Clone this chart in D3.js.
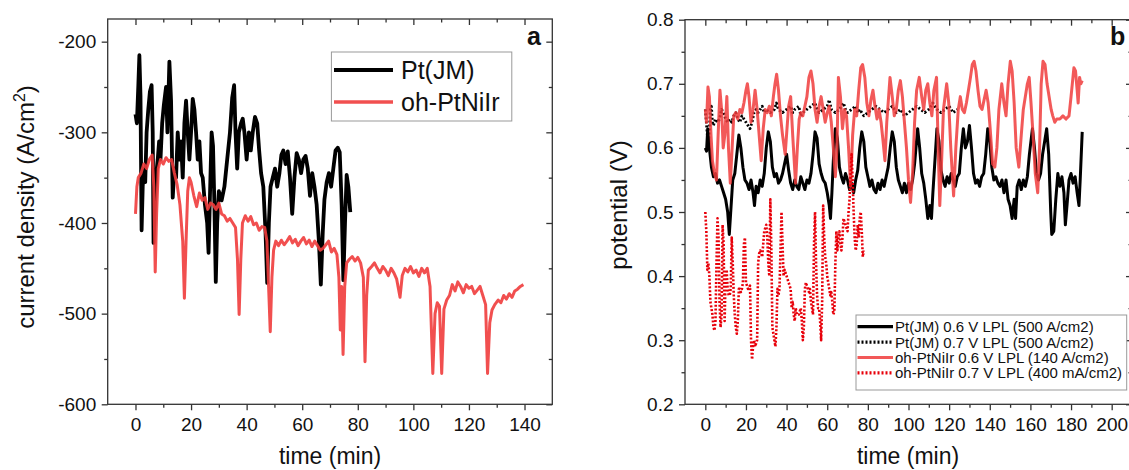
<!DOCTYPE html>
<html>
<head>
<meta charset="utf-8">
<script src="https://cdn.jsdelivr.net/npm/d3@7"></script>
<style>
  body { margin: 0; background: #fff; }
  svg { display: block; }
  text { font-family: "Liberation Sans", Arial, sans-serif; fill: #111; }
</style>
</head>
<body>
<script>
// ---- data: [time (min), value] ----
// panel a: current density (A/cm2)
var ptJM_a = [[0,-280],[0.5,-290],[1,-250],[1.4,-215],[1.8,-260],[2.2,-408],[2.6,-360],[3,-340],[3.5,-355],[4,-300],[4.6,-275],[5.2,-255],[5.8,-248],[6.2,-300],[6.5,-422],[7,-380],[7.5,-345],[8,-330],[8.5,-310],[9,-330],[9.6,-290],[10.2,-270],[11,-250],[11.5,-300],[12.2,-222],[12.8,-265],[13.4,-372],[14,-340],[14.6,-350],[15.2,-300],[15.8,-330],[16.4,-310],[17,-350],[17.6,-290],[18.2,-265],[18.8,-300],[19.4,-330],[20,-300],[20.6,-263],[21.2,-275],[21.8,-300],[22.4,-330],[23,-310],[23.6,-345],[24.2,-350],[25,-380],[25.8,-400],[26.3,-433],[26.8,-370],[27.4,-300],[27.9,-315],[28.4,-380],[28.9,-465],[29.4,-400],[30,-365],[31,-375],[32,-360],[33,-330],[34,-300],[34.8,-262],[35.5,-248],[36,-300],[36.6,-340],[37.2,-300],[38,-290],[38.6,-285],[39.2,-300],[40,-330],[40.8,-300],[41.5,-320],[42.2,-300],[43,-283],[43.8,-290],[44.5,-320],[45.2,-345],[46,-360],[46.8,-410],[47.4,-466],[48,-400],[48.6,-360],[49.4,-350],[50.2,-340],[51,-360],[51.8,-345],[52.5,-325],[53.2,-320],[54,-335],[54.8,-321],[55.6,-350],[56.4,-390],[57.2,-350],[58,-323],[58.8,-330],[59.6,-345],[60.4,-330],[61.2,-326],[62,-340],[62.8,-370],[63.6,-345],[64.4,-360],[65.2,-380],[66,-420],[66.7,-468],[67.4,-410],[68,-374],[68.8,-355],[69.6,-345],[70.4,-360],[71.2,-340],[72,-320],[72.8,-317],[73.5,-322],[74.2,-380],[74.8,-463],[75.4,-400],[76,-347],[76.6,-360],[77.3,-388]];

var ohPtNiIr_a = [[0,-390],[0.5,-360],[1,-350],[2,-345],[3,-335],[4,-340],[5,-330],[6,-325],[6.6,-360],[7.1,-454],[7.6,-390],[8.2,-340],[9,-330],[10,-335],[11,-328],[12,-332],[13,-330],[14,-345],[15,-358],[16,-380],[17,-420],[17.6,-483],[18.2,-420],[18.8,-365],[19.4,-350],[20,-355],[21,-370],[22,-382],[23,-367],[24,-375],[25,-372],[26,-385],[27,-378],[28,-380],[29,-385],[30,-378],[31,-390],[32,-392],[33,-398],[34,-395],[35,-400],[36,-405],[36.7,-440],[37.3,-501],[37.9,-440],[38.5,-400],[39.5,-392],[40.5,-398],[41.5,-393],[42.5,-402],[43.5,-400],[44.5,-408],[45.5,-404],[46.5,-405],[47.3,-420],[47.9,-470],[48.5,-520],[49.1,-460],[49.7,-430],[50.5,-420],[51.5,-425],[52.5,-419],[53.5,-424],[54.5,-420],[55.5,-415],[56.5,-422],[57.5,-418],[58.5,-425],[59.5,-420],[60.5,-416],[61.5,-423],[62.5,-419],[63.5,-426],[64.5,-420],[65.5,-425],[66.5,-430],[67.5,-428],[68.5,-424],[69.5,-420],[70.5,-432],[71.5,-428],[72.5,-435],[73.2,-460],[73.7,-518],[74.2,-470],[74.7,-545],[75.3,-470],[76,-444],[77,-440],[78,-437],[79,-442],[80,-438],[81,-444],[82,-460],[82.6,-553],[83.2,-480],[83.8,-452],[85,-448],[86,-444],[87,-450],[88,-455],[89,-448],[90,-452],[91,-458],[92,-450],[93,-455],[94,-462],[95.2,-482],[96,-458],[97,-450],[98,-454],[99,-448],[100,-455],[101,-452],[102,-459],[103,-450],[104,-455],[105,-450],[106,-470],[107,-566],[107.8,-500],[108.6,-488],[109.4,-492],[110.2,-566],[111,-495],[112,-485],[113,-480],[114,-468],[115,-475],[116,-465],[117,-470],[118,-477],[119,-468],[120,-472],[121,-470],[122,-478],[123,-474],[124,-470],[125,-480],[126,-490],[126.7,-566],[127.5,-510],[128.3,-496],[129.3,-490],[130.5,-485],[131.5,-488],[132.5,-480],[133.5,-484],[134.5,-478],[135.5,-482],[136.5,-475],[137.5,-473],[138.5,-470],[139.6,-468]];

// panel b: potential (V)
var ptJM06 = [[0,0.60],[0.6,0.595],[1.2,0.63],[2,0.60],[3,0.57],[4,0.555],[5,0.56],[6,0.545],[7,0.55],[8,0.54],[9,0.53],[10,0.52],[11,0.50],[11.8,0.465],[12.5,0.50],[13.5,0.55],[14.5,0.56],[15.5,0.59],[16.5,0.62],[17.5,0.60],[18.5,0.57],[19.5,0.55],[20.5,0.545],[21.5,0.535],[22.5,0.55],[23.5,0.53],[24.2,0.51],[25,0.54],[26,0.53],[27,0.55],[28,0.54],[29,0.56],[30,0.60],[31,0.625],[32,0.61],[33,0.57],[34,0.555],[35,0.56],[36,0.545],[37,0.55],[38,0.56],[39,0.575],[40,0.59],[41,0.565],[42,0.545],[43,0.535],[44,0.55],[45,0.54],[46,0.535],[47,0.555],[48,0.545],[49,0.535],[50,0.55],[51,0.545],[52,0.56],[53,0.59],[54,0.625],[55,0.615],[56,0.575],[57,0.56],[58,0.55],[59,0.545],[60,0.53],[61,0.51],[61.6,0.49],[62.3,0.53],[63,0.58],[64,0.63],[65,0.615],[66,0.57],[67,0.555],[68,0.545],[69,0.56],[70,0.55],[71,0.535],[72,0.545],[73,0.53],[74,0.55],[75,0.565],[76,0.60],[77,0.625],[78,0.61],[79,0.57],[80,0.555],[81,0.54],[82,0.55],[83,0.535],[84,0.53],[85,0.545],[86,0.535],[87,0.55],[88,0.54],[89,0.555],[90,0.57],[91,0.60],[92,0.625],[93,0.61],[94,0.57],[95,0.55],[96,0.54],[97,0.53],[98,0.545],[99,0.53],[100,0.545],[101,0.535],[102,0.55],[103,0.575],[104.5,0.63],[105.5,0.60],[106.5,0.56],[107.5,0.545],[108.5,0.52],[109.5,0.49],[110.5,0.51],[111.3,0.49],[112,0.53],[113,0.58],[114,0.63],[115,0.61],[116,0.565],[117,0.55],[118,0.54],[119,0.555],[120,0.545],[121,0.56],[122,0.55],[123,0.54],[124,0.555],[125,0.56],[126,0.60],[127,0.63],[128,0.60],[129,0.61],[130,0.635],[131,0.60],[132,0.56],[133,0.545],[134,0.55],[135,0.54],[136,0.555],[137,0.56],[138,0.59],[139,0.63],[140,0.61],[141,0.57],[142,0.55],[143,0.555],[144,0.545],[145,0.54],[146,0.55],[147,0.53],[148,0.55],[149,0.52],[150,0.51],[151,0.49],[152,0.52],[152.7,0.49],[153.5,0.54],[154.5,0.55],[155.5,0.535],[156.5,0.55],[157.5,0.54],[158.5,0.555],[159.5,0.59],[161,0.63],[162,0.60],[163,0.56],[164,0.55],[165,0.56],[166,0.59],[168,0.63],[169,0.59],[170,0.50],[170.5,0.465],[171.5,0.47],[172.5,0.52],[173.5,0.56],[174.5,0.54],[175.5,0.555],[176.5,0.53],[177.2,0.48],[178,0.51],[179,0.55],[180,0.56],[181,0.545],[182,0.555],[183,0.53],[183.9,0.51],[184.5,0.55],[185.5,0.625]];

var ptJM07 = [[0,0.66],[0.5,0.64],[1,0.62],[1.5,0.60],[2,0.63],[2.5,0.66],[3,0.665],[3.5,0.64],[4,0.635],[5,0.645],[6,0.64],[7,0.645],[8,0.66],[9,0.655],[10,0.645],[11,0.64],[12,0.645],[13,0.64],[14,0.65],[15,0.655],[16,0.645],[17,0.64],[18,0.65],[19,0.645],[20,0.64],[21,0.635],[22,0.63],[23,0.64],[24,0.655],[25,0.66],[26,0.655],[27,0.66],[28,0.665],[29,0.655],[30,0.66],[32,0.655],[34,0.66],[35,0.67],[36,0.66],[38,0.655],[40,0.66],[42,0.665],[43,0.655],[44,0.66],[46,0.665],[47,0.65],[48,0.655],[50,0.66],[52,0.665],[54,0.67],[55,0.66],[56,0.655],[58,0.66],[60,0.665],[61,0.675],[62,0.66],[64,0.655],[66,0.66],[68,0.67],[69,0.66],[70,0.655],[72,0.66],[74,0.665],[75,0.655],[76,0.66],[78,0.65],[80,0.655],[82,0.66],[84,0.665],[86,0.66],[88,0.655],[90,0.66],[92,0.665],[94,0.655],[96,0.66],[98,0.65],[100,0.655],[102,0.66],[104,0.665],[106,0.66],[108,0.655],[110,0.66],[112,0.67],[114,0.66],[116,0.655],[118,0.66],[120,0.665],[122,0.655],[124,0.66]];

var ohPtNiIr06 = [[0,0.66],[0.6,0.64],[1.3,0.695],[2,0.68],[2.8,0.62],[3.5,0.58],[4.5,0.56],[5.5,0.55],[6.3,0.62],[7.2,0.69],[8,0.66],[8.8,0.60],[9.6,0.62],[10.6,0.68],[11.4,0.60],[12.3,0.545],[13.2,0.60],[14,0.65],[15,0.655],[16,0.645],[17,0.66],[18,0.655],[19,0.67],[20,0.69],[20.7,0.70],[21.5,0.68],[22.5,0.64],[23.5,0.66],[24.5,0.69],[25.5,0.66],[26.5,0.62],[27.5,0.58],[28.5,0.63],[29.5,0.66],[30.5,0.655],[31.5,0.665],[32.5,0.65],[33.5,0.68],[34.3,0.70],[35.1,0.715],[36,0.69],[37,0.65],[38,0.62],[39.3,0.59],[40.2,0.63],[41,0.665],[42,0.68],[43,0.62],[44.4,0.545],[45.3,0.60],[46.2,0.645],[47,0.655],[48,0.65],[49,0.665],[50,0.68],[51,0.71],[52,0.72],[53,0.70],[54,0.66],[55,0.64],[56,0.665],[57,0.68],[58,0.66],[59,0.64],[60,0.655],[61,0.665],[62,0.64],[63,0.60],[64,0.555],[64.8,0.60],[65.5,0.71],[66.5,0.68],[67.5,0.63],[68.5,0.66],[69.5,0.65],[70.5,0.60],[71.5,0.54],[72.5,0.62],[73.5,0.66],[74.5,0.65],[75.5,0.69],[76.5,0.725],[77.4,0.73],[78.5,0.71],[79.5,0.67],[80.5,0.65],[81.5,0.675],[82.5,0.69],[83.5,0.665],[84.5,0.645],[85.5,0.66],[86.5,0.64],[87.5,0.61],[88.4,0.58],[89.3,0.64],[90.9,0.71],[92,0.68],[93,0.65],[94,0.66],[95,0.69],[96,0.705],[97,0.68],[98,0.64],[99,0.60],[100,0.55],[101,0.515],[102,0.56],[103,0.64],[104,0.69],[105.3,0.71],[106.5,0.68],[107.5,0.66],[108.5,0.69],[109.5,0.70],[110.5,0.67],[111.5,0.65],[112.5,0.69],[113.8,0.71],[114.6,0.60],[115.4,0.51],[116.3,0.58],[117.2,0.66],[118.8,0.70],[119.8,0.67],[120.8,0.60],[122.2,0.525],[123.3,0.60],[124.5,0.66],[125.5,0.68],[126.5,0.66],[127.5,0.655],[128.5,0.67],[129.5,0.69],[130.5,0.71],[131.4,0.73],[132.3,0.735],[133.2,0.72],[134.2,0.69],[135.2,0.665],[136.2,0.66],[137.2,0.675],[138.2,0.69],[139.2,0.67],[140.2,0.63],[141.4,0.575],[142.5,0.57],[143.5,0.60],[144.5,0.66],[145.9,0.70],[147,0.67],[148,0.65],[149,0.70],[150.1,0.735],[151,0.72],[152,0.67],[153,0.60],[154.3,0.57],[155.5,0.62],[156.5,0.66],[157.5,0.68],[158.5,0.70],[159.4,0.71],[160.3,0.67],[161.3,0.62],[162.4,0.56],[163.6,0.53],[164.5,0.60],[165.3,0.70],[166.2,0.735],[167.2,0.73],[168.2,0.70],[169.2,0.68],[170.2,0.66],[171,0.65],[172,0.64],[173,0.645],[174.5,0.645],[176,0.65],[177.5,0.645],[179,0.65],[180,0.68],[181.4,0.725],[182.2,0.72],[183,0.69],[183.5,0.67],[184.2,0.71],[184.8,0.70],[185.5,0.705]];

var ohPtNiIr07 = [[0,0.50],[0.5,0.47],[1,0.41],[1.5,0.42],[2,0.40],[2.5,0.36],[3,0.35],[3.5,0.34],[4,0.32],[4.5,0.315],[5,0.33],[5.5,0.42],[6,0.49],[6.5,0.46],[7,0.36],[7.5,0.32],[8,0.34],[8.5,0.48],[9,0.45],[9.5,0.33],[10,0.40],[10.5,0.41],[11,0.38],[11.5,0.37],[12,0.37],[12.5,0.38],[13,0.46],[13.5,0.42],[14,0.37],[14.5,0.34],[15,0.32],[15.5,0.31],[16,0.33],[16.5,0.38],[17,0.38],[17.5,0.375],[18,0.38],[18.5,0.39],[19,0.45],[19.5,0.46],[20,0.39],[21,0.38],[22,0.385],[22.5,0.30],[23,0.27],[23.5,0.29],[24,0.30],[24.5,0.29],[25,0.295],[25.5,0.30],[26,0.42],[26.5,0.435],[27,0.44],[28,0.43],[29,0.47],[30,0.48],[30.5,0.46],[31,0.42],[31.5,0.40],[32,0.52],[32.5,0.44],[33,0.32],[33.5,0.31],[34,0.30],[34.5,0.29],[35,0.32],[35.5,0.38],[36,0.37],[36.5,0.38],[37,0.44],[37.5,0.50],[38,0.45],[38.5,0.40],[39,0.41],[40,0.40],[41,0.39],[42,0.38],[42.5,0.35],[43,0.36],[43.5,0.34],[44,0.33],[44.5,0.35],[45,0.34],[46,0.34],[47,0.35],[47.5,0.33],[48,0.30],[48.5,0.32],[49,0.38],[49.5,0.39],[50,0.385],[51,0.375],[51.5,0.38],[52,0.36],[52.5,0.35],[53,0.34],[53.5,0.45],[54,0.50],[54.5,0.42],[55,0.37],[55.5,0.35],[56,0.35],[56.5,0.33],[57,0.30],[57.5,0.36],[58,0.51],[58.5,0.46],[59,0.43],[59.5,0.42],[60,0.40],[60.5,0.39],[61,0.38],[61.5,0.37],[62,0.375],[62.5,0.36],[63,0.34],[63.5,0.345],[64,0.42],[64.5,0.47],[65,0.44],[65.5,0.46],[66,0.47],[66.5,0.45],[67,0.44],[67.5,0.46],[68,0.49],[69,0.48],[70,0.47],[70.5,0.50],[71,0.52],[71.5,0.56],[72,0.59],[72.5,0.55],[73,0.50],[73.5,0.46],[74,0.44],[74.5,0.45],[75,0.48],[75.5,0.46],[76,0.49],[76.5,0.50],[77,0.47],[77.5,0.43],[78,0.44]];

// ticks
var xTicksA = [0, 20, 40, 60, 80, 100, 120, 140];
var xMinorA = [10, 30, 50, 70, 90, 110, 130];
var yTicksA = [-600, -500, -400, -300, -200];
var yMinorA = [-550, -450, -350, -250];
var xTicksB = [0, 20, 40, 60, 80, 100, 120, 140, 160, 180, 200];
var xMinorB = [10, 30, 50, 70, 90, 110, 130, 150, 170, 190];
var yTicksB = [0.2, 0.3, 0.4, 0.5, 0.6, 0.7, 0.8];
var yMinorB = [0.25, 0.35, 0.45, 0.55, 0.65, 0.75];

var legendA = ["Pt(JM)", "oh-PtNiIr"];
var legendB = ["Pt(JM) 0.6 V LPL (500 A/cm2)", "Pt(JM) 0.7 V LPL (500 A/cm2)",
               "oh-PtNiIr 0.6 V LPL (140 A/cm2)", "oh-PtNiIr 0.7 V LPL (400 mA/cm2)"];

var width = 1129, height = 470;
var RED = "#f03c3c", RED_DOT = "#e8000a", FRAME = "#333";

var svg = d3.select("body").append("svg")
  .attr("width", width)
  .attr("height", height);

var xa = d3.scaleLinear().domain([-10, 150]).range([107.7, 552.3]);
var ya = d3.scaleLinear().domain([-600, -175]).range([404.3, 19]);
var xb = d3.scaleLinear().domain([-10, 210]).range([685, 1132]);
var yb = d3.scaleLinear().domain([0.2, 0.8]).range([404.3, 19.7]);

// frame, mirrored ticks, labels
function drawFrame(x, y, xt, xm, yt, ym, yfmt) {
  var x0 = x.range()[0], x1 = x.range()[1], y0 = y.range()[0], y1 = y.range()[1];
  var g = svg.append("g");
  function ax(axis, tx, ty, vals, size, fmt) {
    var a = g.append("g").attr("transform", "translate(" + tx + "," + ty + ")")
      .call(axis.tickValues(vals).tickSize(size).tickPadding(size > 0 ? 6 : 0).tickFormat(fmt || ""));
    a.select(".domain").remove();
    a.selectAll("line").attr("stroke", FRAME).attr("stroke-width", 1.3);
    a.selectAll("text").attr("font-size", 19).attr("fill", "#111")
      .style("font-family", "'Liberation Sans', Arial, sans-serif");
    return a;
  }
  ax(d3.axisBottom(x), 0, y0, xt, 6, function(d) { return String(d); }).selectAll("text").attr("y", 13);
  ax(d3.axisBottom(x), 0, y0, xm, 3.5);
  ax(d3.axisTop(x), 0, y1, xt, -6);
  ax(d3.axisTop(x), 0, y1, xm, -3.5);
  ax(d3.axisLeft(y), x0, 0, yt, 6, yfmt).selectAll("text").attr("x", -11.5);
  ax(d3.axisLeft(y), x0, 0, ym, 3.5);
  ax(d3.axisRight(y), x1, 0, yt, -6);
  ax(d3.axisRight(y), x1, 0, ym, -3.5);
  g.append("rect")
    .attr("x", x0).attr("y", y1)
    .attr("width", x1 - x0).attr("height", y0 - y1)
    .attr("fill", "none").attr("stroke", FRAME).attr("stroke-width", 1.3);
}

function drawLine(x, y, data, color, w, dash, op) {
  var line = d3.line().x(function(d) { return x(d[0]); }).y(function(d) { return y(d[1]); });
  svg.append("path")
    .datum(data)
    .attr("d", line)
    .attr("fill", "none")
    .attr("stroke", color)
    .attr("stroke-width", w)
    .attr("stroke-linejoin", "round")
    .attr("stroke-dasharray", dash || null)
    .attr("opacity", op || 1);
}

// ---- panel a ----
drawFrame(xa, ya, xTicksA, xMinorA, yTicksA, yMinorA, function(d) { return String(d); });
drawLine(xa, ya, ptJM_a, "#000", 3.8);
drawLine(xa, ya, ohPtNiIr_a, RED, 3, null, 0.9);

svg.append("text").attr("x", 527).attr("y", 45)
  .attr("font-size", 25).attr("font-weight", "bold").text("a");

svg.append("text")
  .attr("transform", "translate(34," + 207 + ") rotate(-90)")
  .attr("text-anchor", "middle").attr("font-size", 24)
  .text("current density (A/cm")
  .append("tspan").attr("dy", -9).attr("font-size", 16).text("2")
  .select(function() { return this.parentNode; })
  .append("tspan").attr("dy", 9).text(")");

svg.append("text").attr("x", 330).attr("y", 464)
  .attr("text-anchor", "middle").attr("font-size", 23).text("time (min)");

var legA = svg.append("g");
legA.append("rect").attr("x", 331.4).attr("y", 52).attr("width", 180.4).attr("height", 69)
  .attr("fill", "#fff").attr("stroke", "#999").attr("stroke-width", 1);
var legAStyles = [{c: "#000", w: 3.8, o: 1}, {c: RED, w: 3.4, o: 0.9}];
legendA.forEach(function(name, i) {
  var yy = 70 + i * 32;
  legA.append("line").attr("x1", 334).attr("x2", 393).attr("y1", yy).attr("y2", yy)
    .attr("stroke", legAStyles[i].c).attr("stroke-width", legAStyles[i].w).attr("opacity", legAStyles[i].o);
  legA.append("text").attr("x", 401).attr("y", yy).attr("dy", "0.36em")
    .attr("font-size", 25).text(name);
});

// ---- panel b ----
drawFrame(xb, yb, xTicksB, xMinorB, yTicksB, yMinorB, d3.format(".1f"));
drawLine(xb, yb, ptJM06, "#000", 3);
drawLine(xb, yb, ptJM07, "#000", 2.8, "2,2");
drawLine(xb, yb, ohPtNiIr06, RED, 3, null, 0.85);
drawLine(xb, yb, ohPtNiIr07, RED_DOT, 2.6, "2,1.8");

svg.append("text").attr("x", 1110).attr("y", 45)
  .attr("font-size", 25).attr("font-weight", "bold").text("b");

svg.append("text")
  .attr("transform", "translate(626.5," + 205 + ") rotate(-90)")
  .attr("text-anchor", "middle").attr("font-size", 24).text("potential (V)");

svg.append("text").attr("x", 908).attr("y", 464)
  .attr("text-anchor", "middle").attr("font-size", 23).text("time (min)");

var legB = svg.append("g");
legB.append("rect").attr("x", 856).attr("y", 315).attr("width", 270.7).attr("height", 75)
  .attr("fill", "#fff").attr("stroke", "#999").attr("stroke-width", 1);
var legBStyles = [
  {c: "#000", dash: null, o: 1},
  {c: "#000", dash: "2,2", o: 1},
  {c: RED, dash: null, o: 0.85},
  {c: RED_DOT, dash: "2,2", o: 1}
];
legendB.forEach(function(name, i) {
  var yy = 326.7 + i * 15.4;
  legB.append("line").attr("x1", 857.5).attr("x2", 893).attr("y1", yy).attr("y2", yy)
    .attr("stroke", legBStyles[i].c).attr("stroke-width", 3.2)
    .attr("stroke-dasharray", legBStyles[i].dash).attr("opacity", legBStyles[i].o);
  legB.append("text").attr("x", 895).attr("y", yy).attr("dy", "0.36em")
    .attr("font-size", 15).attr("fill", "#222").text(name);
});
</script>
</body>
</html>
